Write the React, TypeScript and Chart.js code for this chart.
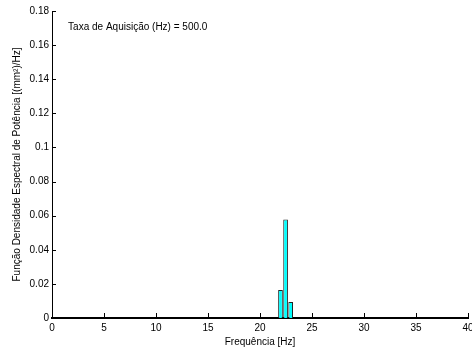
import React, { useEffect, useRef } from "react";
import { Chart, registerables } from "chart.js";

Chart.register(...registerables);

// Frequency bins (Hz) with non-zero spectral density
const freqs: number[] = [21.97, 22.46, 22.95];
// Power spectral density values [(mm²)/Hz]
const psd: number[] = [0.0164, 0.0577, 0.0094];

const xMin = 0;
const xMax = 40;
const xStep = 5;
const yMin = 0;
const yMax = 0.18;
const yStep = 0.02;

const annotationText = "Taxa de Aquisição (Hz) = 500.0";
const annotationPos = { x: 1.55, y: 0.1705 };
const xTitle = "Frequência [Hz]";
const yTitle = "Função Densidade Espectral de Potência [(mm²)/Hz]";

const FONT = '"Liberation Sans", Arial, sans-serif';

const inwardTicks = {
  id: "inwardTicks",
  afterDatasetsDraw(chart: any) {
    const { ctx, chartArea, scales } = chart;
    const x = scales.x;
    const y = scales.y;
    ctx.save();
    ctx.strokeStyle = "#000";
    ctx.lineWidth = 1;
    ctx.beginPath();
    x.ticks.forEach((_t: any, i: number) => {
      const px = Math.round(x.getPixelForTick(i)) + 0.5;
      ctx.moveTo(px, chartArea.bottom);
      ctx.lineTo(px, chartArea.bottom - 5);
    });
    y.ticks.forEach((_t: any, i: number) => {
      const py = Math.round(y.getPixelForTick(i)) + 0.5;
      ctx.moveTo(chartArea.left, py);
      ctx.lineTo(chartArea.left + 4, py);
    });
    ctx.stroke();
    ctx.font = `10px ${FONT}`;
    ctx.fillStyle = "#000";
    ctx.textBaseline = "middle";
    ctx.textAlign = "left";
    ctx.fillText(
      annotationText,
      x.getPixelForValue(annotationPos.x),
      y.getPixelForValue(annotationPos.y)
    );
    ctx.restore();
  },
};

export default function App() {
  const canvasRef = useRef<HTMLCanvasElement | null>(null);

  useEffect(() => {
    document.body.style.margin = "0";
    const canvas = canvasRef.current;
    if (!canvas) return;
    Chart.defaults.font.family = FONT;
    Chart.defaults.font.size = 10;
    Chart.defaults.color = "#000";

    const chart = new Chart(canvas, {
      type: "bar",
      data: {
        datasets: [
          {
            data: freqs.map((f, i) => ({ x: f, y: psd[i] })),
            backgroundColor: "#00FFFF",
            borderColor: "#222",
            borderWidth: 1,
            barPercentage: 0.92,
            categoryPercentage: 1,
          },
        ],
      },
      options: {
        responsive: false,
        animation: false,
        layout: { padding: { top: 11, right: 4, left: 0, bottom: 0 } },
        plugins: {
          legend: { display: false },
          tooltip: { enabled: false },
        },
        scales: {
          x: {
            type: "linear",
            min: xMin,
            max: xMax,
            offset: false,
            grid: { display: false, drawTicks: false, offset: false },
            border: { display: true, color: "#000", width: 2 },
            ticks: { stepSize: xStep, padding: 4, maxRotation: 0, color: "#000" },
            title: {
              display: true,
              text: xTitle,
              color: "#000",
              padding: { top: 0, bottom: 6 },
            },
            afterFit(scale: any) {
              scale.height = 36;
              scale.paddingRight = 0;
              scale.paddingLeft = 0;
            },
          },
          y: {
            type: "linear",
            min: yMin,
            max: yMax,
            grid: { display: false, drawTicks: false },
            border: { display: true, color: "#000", width: 1 },
            ticks: {
              stepSize: yStep,
              padding: 3,
              color: "#000",
              callback: (v: any) => String(+Number(v).toFixed(2)),
            },
            title: {
              display: true,
              text: yTitle,
              color: "#000",
              padding: { top: 11, bottom: 0 },
            },
            afterFit(scale: any) {
              scale.width = 52;
            },
          },
        },
      },
      plugins: [inwardTicks],
    });
    return () => chart.destroy();
  }, []);

  return (
    <div style={{ width: 472, height: 354, background: "#fff" }}>
      <canvas ref={canvasRef} width={472} height={354} />
    </div>
  );
}
